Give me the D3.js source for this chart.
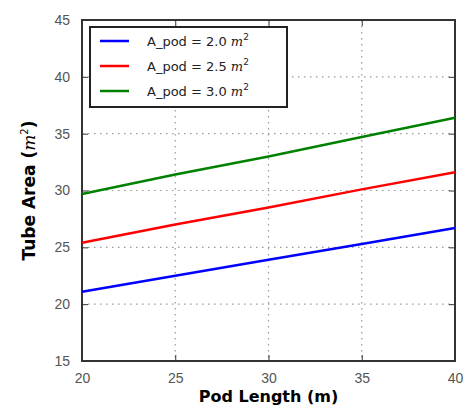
<!DOCTYPE html>
<html>
<head>
<meta charset="utf-8">
<script src="https://cdn.jsdelivr.net/npm/d3@7"></script>
<style>
  body { margin: 0; background: #fff; }
  svg { font-family: "DejaVu Sans", sans-serif; }
</style>
</head>
<body>
<div id="chart"></div>
<script>
// pod length (m)
const podLength = [20, 25, 30, 35, 40];
// tube area (m^2) for each pod area
const tubeA20 = [21.1, 22.5, 23.9, 25.3, 26.7];
const tubeA25 = [25.4, 27.0, 28.5, 30.1, 31.6];
const tubeA30 = [29.7, 31.4, 33.0, 34.7, 36.4];
const seriesNames = ["A_pod = 2.0 ", "A_pod = 2.5 ", "A_pod = 3.0 "];
const seriesColors = ["#0000ff", "#ff0000", "#008000"];
const xTicks = [20, 25, 30, 35, 40];
const yTicks = [15, 20, 25, 30, 35, 40, 45];

const width = 465, height = 407;
const margin = { top: 20, right: 10, bottom: 46, left: 82 };
const iw = width - margin.left - margin.right;
const ih = height - margin.top - margin.bottom;

const svg = d3.select("#chart").append("svg")
  .attr("width", width)
  .attr("height", height);

const g = svg.append("g").attr("transform", `translate(${margin.left},${margin.top})`);

const x = d3.scaleLinear().domain([20, 40]).range([0, iw]);
const y = d3.scaleLinear().domain([15, 45]).range([ih, 0]);

// grid
g.append("g").selectAll("line").data(xTicks.slice(1, -1)).enter().append("line")
  .attr("x1", d => x(d)).attr("x2", d => x(d))
  .attr("y1", 0).attr("y2", ih)
  .attr("stroke", "#999").attr("stroke-dasharray", "1.5,4.5").attr("stroke-width", 1.2);
g.append("g").selectAll("line").data(yTicks.slice(1, -1)).enter().append("line")
  .attr("y1", d => y(d)).attr("y2", d => y(d))
  .attr("x1", 0).attr("x2", iw)
  .attr("stroke", "#999").attr("stroke-dasharray", "1.5,4.5").attr("stroke-width", 1.2);

// axes, ticks inside
const xb = g.append("g").attr("transform", `translate(0,${ih})`)
  .call(d3.axisBottom(x).tickValues(xTicks).tickSizeInner(-6).tickSizeOuter(0).tickPadding(12));
const xt = g.append("g")
  .call(d3.axisTop(x).tickValues(xTicks).tickSizeInner(-6).tickSizeOuter(0).tickFormat(""));
const yl = g.append("g")
  .call(d3.axisLeft(y).tickValues(yTicks).tickSizeInner(-6).tickSizeOuter(0).tickPadding(12));
const yr = g.append("g").attr("transform", `translate(${iw},0)`)
  .call(d3.axisRight(y).tickValues(yTicks).tickSizeInner(-6).tickSizeOuter(0).tickFormat(""));

[xb, xt, yl, yr].forEach(a => {
  a.select(".domain").remove();
  a.selectAll(".tick line").attr("stroke", "#333");
  a.selectAll(".tick text").attr("fill", "#555").style("font-size", "14px");
});

// frame
g.append("rect").attr("width", iw).attr("height", ih)
  .attr("fill", "none").attr("stroke", "#333").attr("stroke-width", 2);

// lines
const allSeries = [tubeA20, tubeA25, tubeA30];
const line = d3.line().x((d, i) => x(podLength[i])).y(d => y(d));
allSeries.forEach((s, k) => {
  g.append("path").datum(s)
    .attr("d", line)
    .attr("fill", "none")
    .attr("stroke", seriesColors[k])
    .attr("stroke-width", 2.5);
});

// legend
const lg = g.append("g").attr("transform", "translate(8,7)");
lg.append("rect").attr("width", 197).attr("height", 80)
  .attr("fill", "#fff").attr("stroke", "#222").attr("stroke-width", 2);
seriesNames.forEach((name, k) => {
  const yy = 14 + k * 25;
  lg.append("line").attr("x1", 10).attr("x2", 39).attr("y1", yy).attr("y2", yy)
    .attr("stroke", seriesColors[k]).attr("stroke-width", 2.5);
  const t = lg.append("text").attr("x", 57).attr("y", yy + 5)
    .style("font-size", "13px").attr("fill", "#222");
  t.append("tspan").text(name);
  t.append("tspan").text("m").style("font-style", "italic").style("font-family", "'DejaVu Serif', serif");
  t.append("tspan").text("2").attr("dy", -6).style("font-size", "9px");
});

// axis labels
svg.append("text")
  .attr("x", margin.left + iw / 2).attr("y", 402)
  .attr("text-anchor", "middle")
  .style("font-size", "16px").style("font-weight", "bold")
  .text("Pod Length (m)");

const yLab = svg.append("text")
  .attr("transform", `translate(35,${margin.top + ih / 2}) rotate(-90)`)
  .attr("text-anchor", "middle")
  .style("font-size", "17px").style("font-weight", "bold");
yLab.append("tspan").text("Tube Area (");
yLab.append("tspan").text("m").style("font-style", "italic").style("font-weight", "normal").style("font-family", "'DejaVu Serif', serif");
yLab.append("tspan").text("2").attr("dy", -7).style("font-size", "10px").style("font-weight", "normal");
yLab.append("tspan").text(")").attr("dy", 7);
</script>
</body>
</html>
